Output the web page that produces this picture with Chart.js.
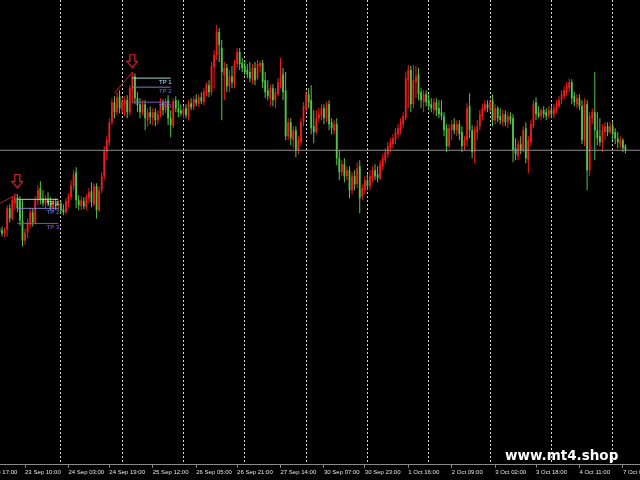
<!DOCTYPE html>
<html>
<head>
<meta charset="utf-8">
<script src="https://cdn.jsdelivr.net/npm/chart.js@4.4.0/dist/chart.umd.min.js"></script>
<style>
  html, body { margin: 0; padding: 0; background: #000; }
  canvas { display: block; }
</style>
</head>
<body>
<canvas id="myChart" width="640" height="480"></canvas>
<script>
// H1 bars, Mon 23 Sep -> Mon 7 Oct, prices in points
const open = [
  272, 270, 267, 271, 292, 282, 297, 303, 300, 280,
  260, 268, 276, 288, 278, 300, 312, 302, 296, 302,
  297, 292, 298, 294, 297, 291, 288, 297, 303, 314,
  328, 300, 294, 299, 293, 302, 309, 296, 314, 290,
  310, 324, 348, 358, 378, 398, 388, 404, 390, 396,
  400, 388, 410, 424, 402, 396, 388, 396, 380, 388,
  382, 388, 380, 386, 398, 390, 400, 382, 374, 400,
  392, 390, 386, 392, 384, 397, 393, 401, 396, 403,
  398, 408, 415, 408, 433, 445, 468, 452, 425, 432,
  414, 424, 416, 436, 448, 437, 434, 430, 428, 420,
  432, 422, 434, 437, 420, 410, 402, 412, 400, 406,
  416, 426, 410, 364, 378, 360, 370, 350, 358, 378,
  392, 406, 400, 374, 368, 382, 384, 392, 382, 396,
  378, 370, 376, 342, 328, 336, 324, 330, 310, 324,
  316, 334, 304, 310, 320, 314, 322, 330, 326, 322,
  334, 340, 346, 352, 356, 360, 366, 370, 376, 382,
  420, 430, 396, 418, 426, 408, 398, 406, 400, 396,
  390, 398, 392, 388, 384, 372, 354, 370, 376, 370,
  376, 368, 354, 360, 394, 370, 348, 368, 374, 384,
  390, 396, 392, 400, 380, 392, 384, 378, 386, 378,
  384, 382, 352, 344, 356, 350, 372, 340, 358, 374,
  398, 388, 384, 390, 388, 384, 390, 386, 390, 394,
  400, 404, 408, 412, 418, 404, 396, 402, 394, 360,
  396, 330, 382, 388, 370, 364, 358, 368, 374, 368,
  374, 368, 362, 356, 360, 354
];
const high = [
  276, 274, 273, 295, 296, 304, 307, 306, 304, 300,
  272, 282, 292, 292, 304, 315, 319, 310, 305, 308,
  303, 301, 302, 300, 300, 296, 302, 307, 320, 330,
  333, 305, 304, 303, 306, 312, 318, 317, 317, 314,
  328, 354, 364, 382, 402, 404, 408, 410, 402, 404,
  405, 415, 428, 427, 408, 402, 400, 400, 392, 394,
  392, 392, 390, 402, 401, 402, 405, 390, 402, 404,
  400, 396, 394, 396, 400, 402, 404, 406, 406, 408,
  412, 418, 420, 438, 450, 475, 472, 460, 438, 436,
  430, 434, 440, 452, 452, 442, 440, 436, 438, 436,
  438, 440, 439, 440, 428, 420, 416, 416, 412, 422,
  442, 432, 428, 382, 382, 374, 374, 364, 382, 398,
  410, 412, 415, 390, 390, 392, 396, 396, 398, 400,
  382, 380, 382, 350, 340, 342, 334, 334, 328, 330,
  338, 340, 316, 324, 326, 330, 334, 336, 334, 340,
  346, 352, 358, 362, 366, 372, 376, 382, 388, 428,
  435, 434, 435, 434, 432, 412, 410, 410, 406, 402,
  402, 402, 400, 400, 388, 376, 376, 380, 382, 380,
  380, 374, 364, 397, 407, 375, 374, 380, 390, 396,
  400, 400, 402, 406, 396, 394, 392, 390, 390, 388,
  388, 386, 362, 360, 364, 374, 378, 364, 380, 400,
  403, 394, 392, 394, 392, 394, 394, 396, 400, 404,
  410, 414, 418, 422, 421, 408, 406, 406, 400, 402,
  400, 388, 392, 428, 388, 382, 376, 378, 378, 378,
  378, 372, 368, 364, 362, 356
];
const low = [
  266, 264, 263, 264, 278, 280, 290, 288, 275, 254,
  256, 262, 272, 274, 276, 295, 296, 294, 292, 294,
  290, 288, 290, 290, 287, 285, 286, 293, 300, 310,
  292, 290, 290, 291, 290, 297, 293, 294, 282, 288,
  307, 320, 340, 354, 375, 382, 385, 387, 387, 384,
  382, 385, 397, 396, 388, 382, 385, 370, 374, 376,
  375, 374, 376, 383, 385, 387, 375, 363, 372, 388,
  383, 384, 382, 382, 380, 390, 390, 394, 393, 396,
  395, 404, 403, 405, 412, 440, 438, 380, 400, 408,
  408, 412, 412, 432, 430, 428, 425, 422, 418, 416,
  415, 420, 428, 412, 402, 400, 394, 394, 392, 404,
  412, 400, 360, 360, 355, 352, 343, 346, 354, 374,
  388, 392, 366, 357, 366, 378, 380, 376, 378, 370,
  366, 366, 335, 320, 324, 318, 320, 302, 306, 310,
  312, 287, 300, 306, 310, 310, 318, 320, 318, 320,
  330, 337, 342, 348, 352, 356, 362, 366, 372, 380,
  392, 388, 392, 402, 400, 392, 388, 394, 390, 388,
  386, 384, 382, 380, 364, 348, 352, 360, 366, 364,
  360, 348, 350, 354, 362, 342, 337, 360, 370, 380,
  388, 388, 388, 374, 376, 378, 376, 374, 374, 372,
  376, 338, 340, 340, 346, 348, 337, 327, 354, 372,
  380, 382, 380, 382, 380, 382, 382, 382, 387, 392,
  396, 401, 404, 408, 396, 394, 392, 390, 356, 354,
  310, 324, 376, 340, 355, 354, 348, 360, 364, 366,
  360, 356, 352, 352, 348, 347
];
const close = [
  269, 267, 271, 292, 282, 300, 303, 292, 280, 260,
  268, 278, 288, 278, 300, 310, 300, 297, 302, 297,
  293, 298, 294, 297, 290, 288, 299, 304, 315, 326,
  300, 295, 300, 294, 303, 308, 298, 314, 290, 310,
  324, 350, 360, 378, 398, 388, 403, 392, 398, 400,
  388, 412, 425, 402, 395, 388, 396, 382, 388, 383,
  388, 380, 386, 398, 390, 399, 382, 375, 399, 392,
  388, 387, 391, 385, 397, 393, 401, 397, 403, 399,
  409, 415, 408, 434, 445, 468, 455, 428, 432, 414,
  424, 418, 436, 448, 436, 432, 428, 426, 422, 432,
  420, 436, 437, 418, 408, 404, 412, 400, 408, 418,
  424, 408, 364, 378, 362, 370, 350, 360, 378, 394,
  406, 398, 372, 368, 382, 386, 392, 382, 394, 376,
  372, 376, 342, 328, 336, 324, 330, 310, 324, 316,
  332, 302, 312, 320, 314, 324, 330, 324, 322, 336,
  342, 348, 354, 358, 362, 368, 372, 378, 384, 422,
  430, 396, 420, 424, 406, 400, 406, 398, 394, 392,
  398, 390, 386, 384, 370, 354, 372, 376, 370, 376,
  366, 354, 360, 392, 370, 348, 370, 374, 386, 392,
  396, 392, 398, 380, 392, 382, 380, 386, 378, 384,
  380, 350, 346, 356, 350, 370, 342, 360, 376, 396,
  386, 384, 390, 386, 384, 390, 386, 392, 396, 400,
  406, 410, 414, 418, 402, 398, 402, 394, 360, 396,
  330, 384, 388, 370, 362, 358, 370, 374, 368, 374,
  366, 362, 358, 360, 352, 350
];

// bar index of each time label, and of each midnight (day separator)
const tickBars = [-7, 10, 27, 43, 60, 77, 93, 110, 127, 143, 160, 177, 194, 210, 227, 244];
const tickLabels = [
  '22 Sep 17:00', '23 Sep 10:00', '24 Sep 03:00', '24 Sep 19:00', '25 Sep 12:00',
  '26 Sep 05:00', '26 Sep 21:00', '27 Sep 14:00', '30 Sep 07:00', '30 Sep 23:00',
  '1 Oct 16:00', '2 Oct 09:00', '3 Oct 02:00', '3 Oct 18:00', '4 Oct 11:00', '7 Oct 04:00'
];
const dayBars = [24, 48, 72, 96, 120, 144, 168, 192, 216, 240];

// sell signals: arrow bar, end of target lines, levels
const signalBars = [7, 52];
const signalEnd = [23, 67];
const arrowPrice = [319, 439];
const trendStart = [0, 45];
const trendStartPrice = [297, 407];
const tp1 = [301, 422];
const tp2 = [292, 413];
const tp3 = [277, 398];

const xMin = 0.2;
const xMax = 250.7;
const upColor = '#f21c1c';
const downColor = '#52c64a';

const candleColor = (ctx) => (close[ctx.dataIndex] > open[ctx.dataIndex] ? upColor : downColor);

const makeArrow = () => {
  const c = document.createElement('canvas');
  c.width = 12;
  c.height = 15;
  const g = c.getContext('2d');
  g.beginPath();
  g.moveTo(3.5, 0.5);
  g.lineTo(8.5, 0.5);
  g.lineTo(8.5, 7.5);
  g.lineTo(11.5, 7.5);
  g.lineTo(6, 14);
  g.lineTo(0.5, 7.5);
  g.lineTo(3.5, 7.5);
  g.closePath();
  g.fillStyle = '#000';
  g.fill();
  g.strokeStyle = '#e62828';
  g.lineWidth = 1.2;
  g.stroke();
  return c;
};

const buildDatasets = () => {
  const sets = [];
  sets.push({
    label: 'body',
    data: close.map((c, i) => ({ x: i, y: [open[i], c] })),
    backgroundColor: candleColor,
    barThickness: 1.8,
    inflateAmount: 0,
    grouped: false,
    borderWidth: 0,
    order: 2,
  });
  sets.push({
    label: 'wick',
    data: high.map((h, i) => ({ x: i, y: [low[i], h] })),
    backgroundColor: candleColor,
    barThickness: 1,
    inflateAmount: 0,
    grouped: false,
    borderWidth: 0,
    order: 3,
  });

  const levels = [
    { vals: tp1, name: 'TP 1', line: '#a6d6cc', text: '#bfe2ff' },
    { vals: tp2, name: 'TP 2', line: '#7c7cc8', text: '#5c78ff' },
    { vals: tp3, name: 'TP 3', line: '#7a5aa6', text: '#9a52e0' },
  ];
  signalBars.forEach((b, s) => {
    sets.push({
      type: 'line',
      data: [{ x: trendStart[s], y: trendStartPrice[s] }, { x: b, y: high[b] }],
      borderColor: '#b42626',
      borderWidth: 1,
      pointRadius: 0,
      order: 0,
    });
    levels.forEach((lv) => {
      sets.push({
        type: 'line',
        data: [{ x: b, y: lv.vals[s] }, { x: signalEnd[s], y: lv.vals[s] }],
        borderColor: lv.line,
        borderWidth: 1,
        pointRadius: 0,
        order: 0,
        tpLabel: lv.name,
        tpColor: lv.text,
      });
    });
  });

  sets.push({
    type: 'line',
    data: signalBars.map((b, s) => ({ x: b, y: arrowPrice[s] })),
    showLine: false,
    pointStyle: makeArrow(),
    pointRadius: 7,
    order: -1,
  });

  const lastClose = close[close.length - 1];
  sets.push({
    type: 'line',
    data: [{ x: xMin, y: lastClose }, { x: xMax, y: lastClose }],
    borderColor: '#8e8e8e',
    borderWidth: 1,
    pointRadius: 0,
    order: 1,
  });

  sets.forEach((d) => { d.xAxisID = 'x'; d.yAxisID = 'y'; });
  return sets;
};

const tpLabels = {
  id: 'tpLabels',
  afterDatasetsDraw(chart) {
    const ctx = chart.ctx;
    ctx.save();
    ctx.font = '6px "Liberation Sans", Arial, sans-serif';
    ctx.textAlign = 'right';
    ctx.textBaseline = 'top';
    chart.data.datasets.forEach((ds, i) => {
      if (!ds.tpLabel) return;
      const pts = chart.getDatasetMeta(i).data;
      const end = pts[pts.length - 1];
      ctx.fillStyle = ds.tpColor;
      ctx.fillText(ds.tpLabel, end.x + 1, end.y + 1);
    });
    ctx.restore();
  },
};

const watermark = {
  id: 'watermark',
  afterDraw(chart) {
    const ctx = chart.ctx;
    ctx.save();
    ctx.font = 'bold 13.5px "DejaVu Sans", sans-serif';
    ctx.fillStyle = '#ffffff';
    ctx.textAlign = 'left';
    ctx.textBaseline = 'alphabetic';
    ctx.fillText('www.mt4.shop', 505, 460);
    ctx.restore();
  },
};

const drawGraph = () => {
  const ctx = document.getElementById('myChart').getContext('2d');
  new Chart(ctx, {
    type: 'bar',
    data: { datasets: buildDatasets() },
    options: {
      responsive: false,
      animation: false,
      events: [],
      layout: { autoPadding: false, padding: { left: 0, right: 0, top: 0, bottom: 3 } },
      plugins: { legend: { display: false }, tooltip: { enabled: false } },
      scales: {
        x: {
          type: 'linear',
          position: 'bottom',
          min: xMin,
          max: xMax,
          offset: false,
          afterBuildTicks: (scale) => { scale.ticks = tickBars.map((v) => ({ value: v })); },
          // labels may run off the canvas edges, like the terminal does
          afterFit: (scale) => { scale.paddingLeft = 0; scale.paddingRight = 0; },
          ticks: {
            autoSkip: false,
            maxRotation: 0,
            minRotation: 0,
            align: 'start',
            padding: 1,
            color: '#e2e2e2',
            font: { family: '"Liberation Sans", Arial, sans-serif', size: 6 },
            callback: (v) => tickLabels[tickBars.indexOf(v)],
          },
          grid: { offset: false, drawOnChartArea: false, drawTicks: true, tickLength: 3, color: '#8a8a8a' },
          border: { display: true, color: '#8a8a8a', width: 1 },
        },
        days: {
          type: 'linear',
          position: 'bottom',
          min: xMin,
          max: xMax,
          offset: false,
          afterBuildTicks: (scale) => { scale.ticks = dayBars.map((v) => ({ value: v })); },
          ticks: { display: false },
          grid: { offset: false, drawTicks: false, color: '#d6d6d6', lineWidth: 1 },
          border: { display: false, dash: [2, 2] },
        },
        y: { display: false, min: 36, max: 500 },
      },
    },
    plugins: [tpLabels, watermark],
  });
};

drawGraph();
</script>
</body>
</html>
